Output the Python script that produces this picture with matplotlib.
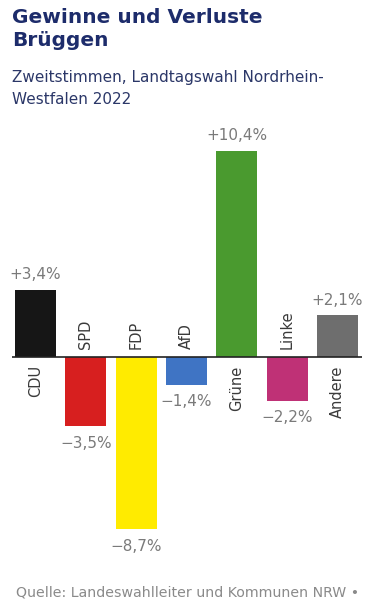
import matplotlib
matplotlib.use("Agg")
import matplotlib.pyplot as plt

parties = ["CDU", "SPD", "FDP", "AfD", "Grüne", "Linke", "Andere"]
changes = [3.4, -3.5, -8.7, -1.4, 10.4, -2.2, 2.1]
colors = ["#161616", "#d71f1f", "#ffeb00", "#3f74c4", "#4a9a2f", "#bf3176", "#6e6e6e"]

W, H = 375, 607
fig = plt.figure(figsize=(W / 100, H / 100), dpi=100)
fig.patch.set_facecolor("white")

# axes placed in pixel terms: x 12..362, y 130..560 (from top)
left, right, top, bottom = 12, 362, 130, 560
ax = fig.add_axes([left / W, 1 - bottom / H, (right - left) / W, (bottom - top) / H])
ax.set_xlim(-0.467, 6.487)
ax.set_ylim(-10.25, 11.46)
ax.axis("off")

x = range(len(parties))
ax.bar(x, changes, width=0.815, color=colors, zorder=2)
ax.axhline(0, color="#222222", linewidth=1.2, zorder=3)

for i, (p, v) in enumerate(zip(parties, changes)):
    s = f"{v:+.1f}".replace(".", ",").replace("-", "\u2212") + "%"
    if v >= 0:
        ax.annotate(s, (i, v), xytext=(0, 5.5), textcoords="offset points",
                    ha="center", va="bottom", fontsize=11, color="#7a7a7a")
        ax.annotate(p, (i, 0), xytext=(0, -6), textcoords="offset points",
                    ha="center", va="top", rotation=90, fontsize=10.5, color="#3a3a3a")
    else:
        ax.annotate(s, (i, v), xytext=(0, -7), textcoords="offset points",
                    ha="center", va="top", fontsize=11, color="#7a7a7a")
        ax.annotate(p, (i, 0), xytext=(0, 6), textcoords="offset points",
                    ha="center", va="bottom", rotation=90, fontsize=10.5, color="#3a3a3a")

navy = "#1d2c6b"
fig.text(12 / W, 1 - 8 / H, "Gewinne und Verluste\nBrüggen", ha="left", va="top",
         fontsize=14.5, fontweight="bold", color=navy, linespacing=1.3)
fig.text(12 / W, 1 - 70 / H, "Zweitstimmen, Landtagswahl Nordrhein-\nWestfalen 2022",
         ha="left", va="top", fontsize=11, color="#2b3768", linespacing=1.55)
fig.text(16 / W, 1 - 592 / H, "Quelle: Landeswahlleiter und Kommunen NRW \u2022",
         ha="left", va="center", fontsize=10.2, color="#8a8a8a")

fig.savefig("out.png", dpi=100)
